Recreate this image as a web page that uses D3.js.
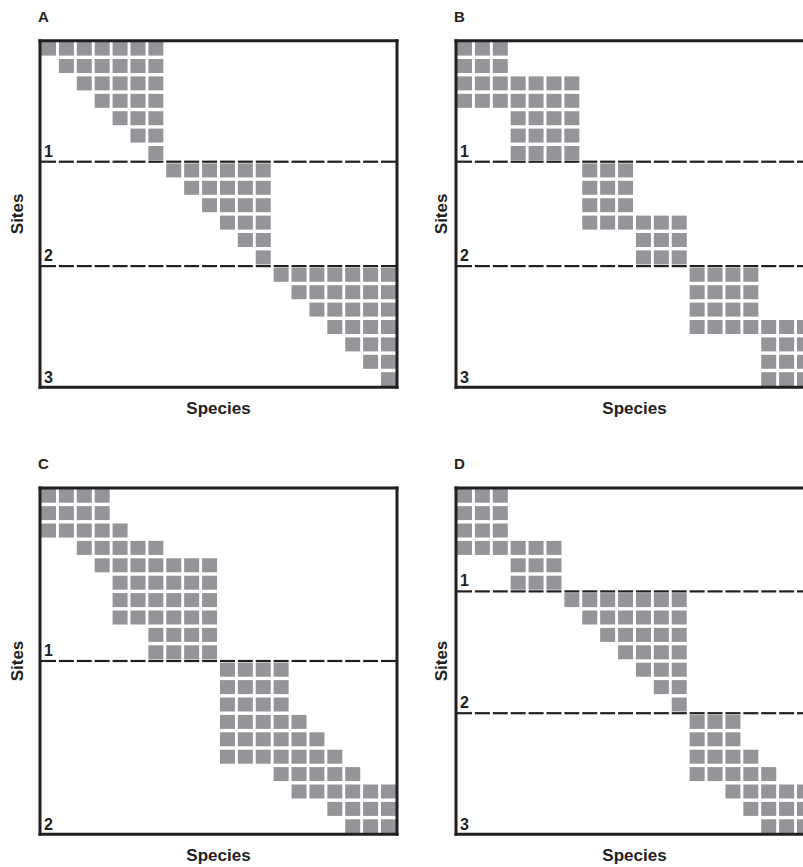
<!DOCTYPE html>
<html>
<head>
<meta charset="utf-8">
<script src="https://cdn.jsdelivr.net/npm/d3@7"></script>
<style>
  body { margin: 0; background: #fff; }
  text { font-family: "Liberation Sans", Arial, Helvetica, sans-serif; font-weight: bold; fill: #231f20; }
</style>
</head>
<body>
<svg id="chart" width="803" height="867"></svg>
<script>
// occupied species for every site row: [first species, last species]
var rowsA = [[0,6],[1,6],[2,6],[3,6],[4,6],[5,6],[6,6],
             [7,12],[8,12],[9,12],[10,12],[11,12],[12,12],
             [13,19],[14,19],[15,19],[16,19],[17,19],[18,19],[19,19]];
var rowsB = [[0,2],[0,2],[0,6],[0,6],[3,6],[3,6],[3,6],
             [7,9],[7,9],[7,9],[7,12],[10,12],[10,12],
             [13,16],[13,16],[13,16],[13,19],[17,19],[17,19],[17,19]];
var rowsC = [[0,3],[0,3],[0,4],[2,6],[3,9],[4,9],[4,9],[4,9],[6,9],[6,9],
             [10,13],[10,13],[10,13],[10,14],[10,15],[10,16],[13,17],[14,19],[16,19],[17,19]];
var rowsD = [[0,2],[0,2],[0,2],[0,5],[3,5],[3,5],
             [6,12],[7,12],[8,12],[9,12],[10,12],[11,12],[12,12],
             [13,15],[13,15],[13,16],[13,17],[15,19],[16,19],[17,19]];

// first site row of each new group (dashed separators)
var breaksA = [7, 13];
var breaksB = [7, 13];
var breaksC = [10];
var breaksD = [6, 13];

var groupLabelsA = ['1', '2', '3'];
var groupLabelsB = ['1', '2', '3'];
var groupLabelsC = ['1', '2'];
var groupLabelsD = ['1', '2', '3'];

var panelLetters = ['A', 'B', 'C', 'D'];
var nSpecies = 20, nSites = 20;

var cellColor = '#939598', ink = '#231f20';
var gridW = 355, gridH = 344.6;

var panels = [
  { letter: panelLetters[0], rows: rowsA, breaks: breaksA, labels: groupLabelsA, x0: 41,  y0: 41.6,  sitesDx: -24 },
  { letter: panelLetters[1], rows: rowsB, breaks: breaksB, labels: groupLabelsB, x0: 457, y0: 41.6,  sitesDx: -16 },
  { letter: panelLetters[2], rows: rowsC, breaks: breaksC, labels: groupLabelsC, x0: 41,  y0: 488.7, sitesDx: -24 },
  { letter: panelLetters[3], rows: rowsD, breaks: breaksD, labels: groupLabelsD, x0: 457, y0: 488.7, sitesDx: -16 }
];

var x = d3.scaleBand().domain(d3.range(nSpecies)).range([0, gridW]).paddingInner(0.162).paddingOuter(0);
var y = d3.scaleBand().domain(d3.range(nSites)).range([0, gridH]).paddingInner(0.195).paddingOuter(0);
var yGap = y.step() - y.bandwidth();
function sepY(b) { return y(b) - yGap / 2; }

var svg = d3.select('#chart');

panels.forEach(function(p) {
  var g = svg.append('g').attr('transform', 'translate(' + p.x0 + ',' + p.y0 + ')');

  var cells = [];
  p.rows.forEach(function(span, r) {
    d3.range(span[0], span[1] + 1).forEach(function(c) { cells.push({ r: r, c: c }); });
  });

  g.selectAll('rect.cell').data(cells).enter().append('rect')
    .attr('class', 'cell')
    .attr('x', function(d) { return x(d.c); })
    .attr('y', function(d) { return y(d.r); })
    .attr('width', x.bandwidth())
    .attr('height', y.bandwidth())
    .attr('fill', cellColor);

  // dashed separators, one dash per species column
  p.breaks.forEach(function(b) {
    g.selectAll(null).data(d3.range(nSpecies)).enter().append('line')
      .attr('x1', function(c) { return x(c); })
      .attr('x2', function(c) { return x(c) + x.bandwidth(); })
      .attr('y1', sepY(b)).attr('y2', sepY(b))
      .attr('stroke', ink).attr('stroke-width', 2.2);
  });

  // frame
  var frame = [
    [-1, -2.3, -1, gridH + 2.5],
    [-2.5, -0.8, gridW + 2.5, -0.8],
    [-2.5, gridH + 1, gridW + 2.5, gridH + 1],
    [gridW + 1, -2.3, gridW + 1, gridH + 2.5]
  ];
  g.selectAll('line.frame').data(frame).enter().append('line')
    .attr('class', 'frame')
    .attr('x1', function(d) { return d[0]; }).attr('y1', function(d) { return d[1]; })
    .attr('x2', function(d) { return d[2]; }).attr('y2', function(d) { return d[3]; })
    .attr('stroke', ink).attr('stroke-width', 3);

  // group numbers
  var labelY = p.breaks.map(function(b) { return sepY(b) - 5; }).concat([gridH - 3]);
  g.selectAll('text.grp').data(p.labels).enter().append('text')
    .attr('class', 'grp')
    .attr('x', 3)
    .attr('y', function(d, i) { return labelY[i]; })
    .attr('font-size', 16)
    .text(function(d) { return d; });

  g.append('text')
    .attr('x', -3).attr('y', -20)
    .attr('font-size', 15)
    .text(p.letter);

  g.append('text')
    .attr('x', gridW / 2).attr('y', gridH + 28)
    .attr('text-anchor', 'middle')
    .attr('font-size', 17)
    .text('Species');

  g.append('text')
    .attr('transform', 'translate(' + p.sitesDx + ',' + (gridH / 2) + ') rotate(-90)')
    .attr('text-anchor', 'middle')
    .attr('dy', '0.35em')
    .attr('font-size', 17)
    .text('Sites');
});
</script>
</body>
</html>
